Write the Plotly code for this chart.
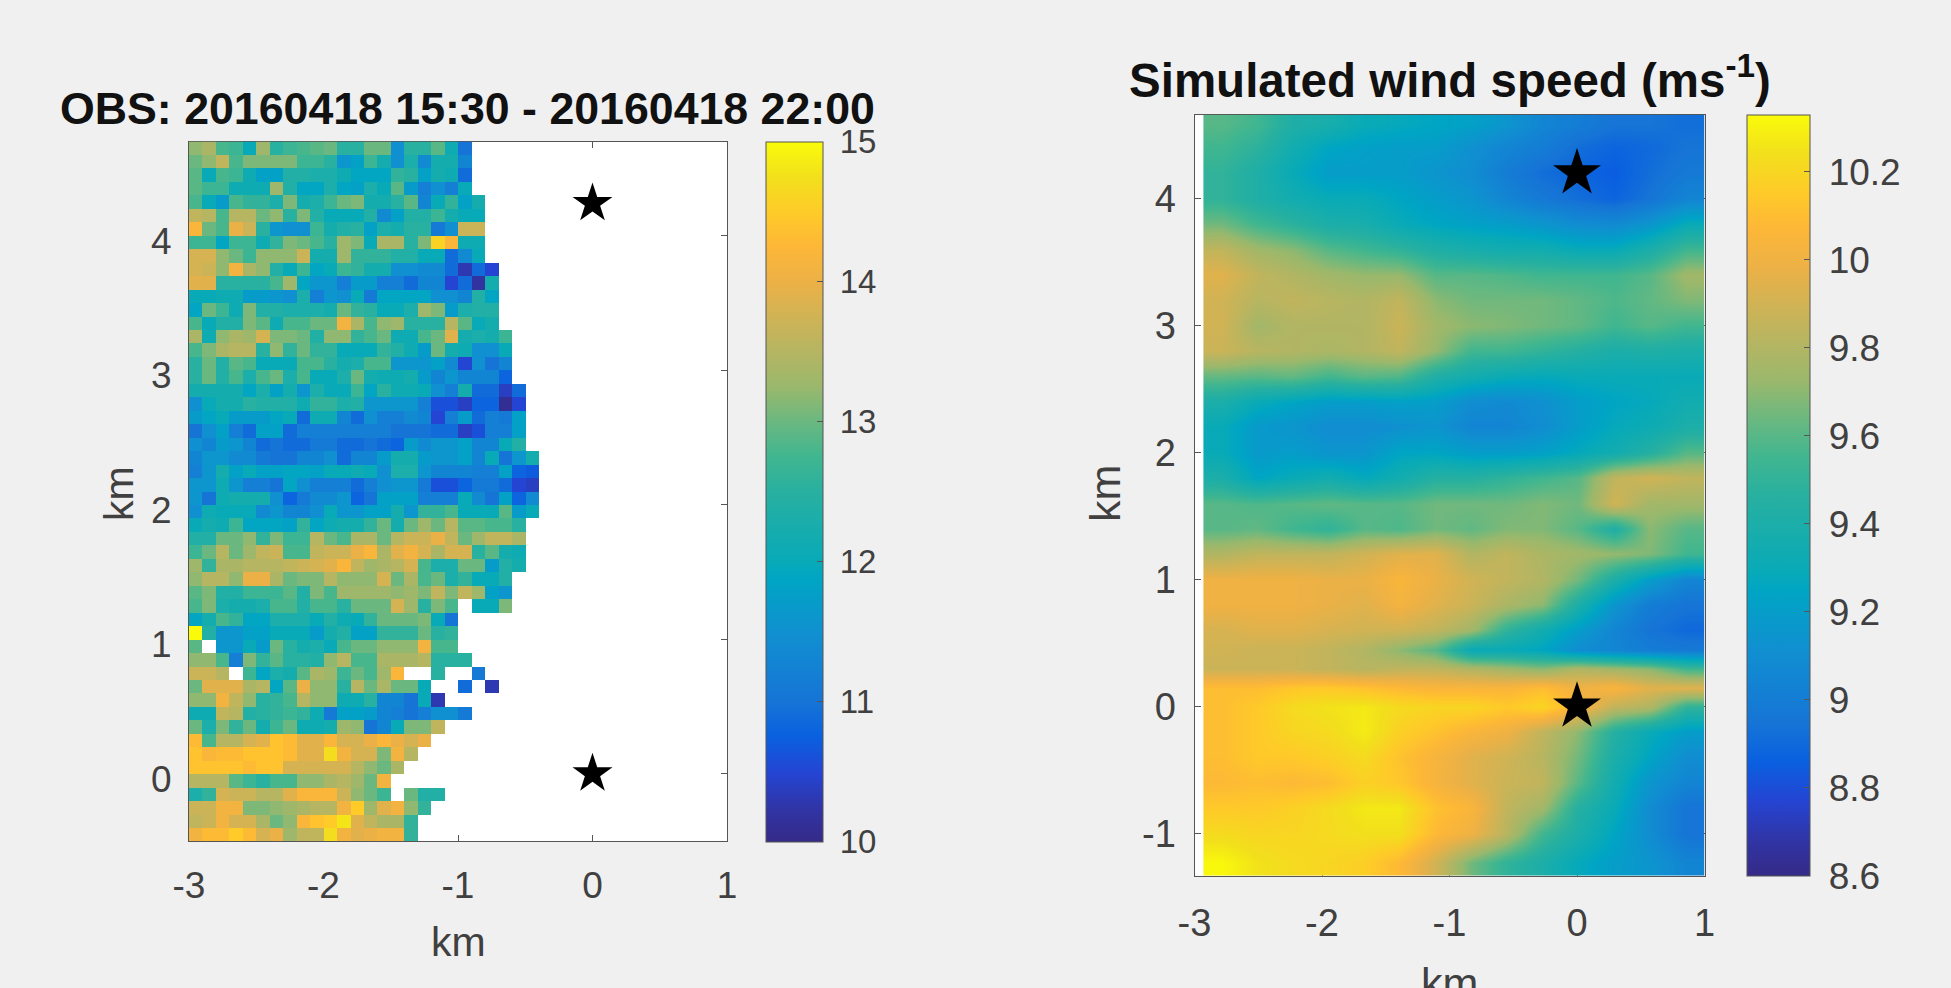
import plotly.graph_objects as go

W, H = 1951, 988
N = None

obs_x = [round(-2.95 + 0.1 * i, 2) for i in range(26)]
obs_y = [round(4.65 - 0.1 * i, 2) for i in range(52)]
obs_speed = [
 [13.2,13.4,12.8,12.7,12.0,13.3,12.5,12.7,12.8,12.9,13,12.5,12.5,13,13,11.5,12.5,12.5,12.9,12.1,11.0],
 [13,13.2,13.6,12.8,13.1,13.1,13.1,13.1,12.7,12.7,12.5,11.6,11.8,12.7,12.2,11.5,12.3,11.4,12.2,12.2,11.3],
 [12.9,12.0,12.8,12.7,12.1,11.8,11.8,12.4,12.4,12.3,12.3,12.1,11.9,11.9,11.9,12.6,12.5,11.8,12.2,12.1,10.9],
 [12.9,12.7,12.7,12.1,12.1,12.1,13.3,12.4,11.9,11.9,12.3,11.9,11.8,12.3,12.0,12.9,11.7,11.2,11.5,11.2,12.0],
 [12.8,12.0,11.7,12.8,12.6,12.6,12.3,13.1,12.2,12.3,12.7,13,13.1,12.2,12.2,12.5,12.9,11.3,12,12.6,11.8,12.2],
 [13.6,13.5,12.8,13.5,13.5,13.0,13.2,12.5,13.1,12.4,12.0,12,12,12.4,11.4,11.8,12.4,12.4,12.7,12.2,12.0,12.0],
 [14.2,13,12.8,14.0,13.7,12.5,11.6,11.5,11.5,12.7,12.2,12.4,12.5,11.8,12.3,12.2,12.5,12.5,11.1,11.5,13.7,13.7],
 [12.7,12.7,11.9,12.7,12.7,12.1,12.6,13.1,13,12.8,12.5,13.3,13.1,12,13.4,13.4,12.5,13.1,14.6,14.2,12.1,12.1],
 [13.8,13.8,13.2,13,12.7,13.2,13.2,13.2,13.7,12.2,12.2,13.3,12.6,12.6,12.6,12.4,12.4,12,12,10.9,11.4,12.0],
 [13.8,13.7,13.2,14.1,13.4,13.2,12.4,12.0,12.7,11.9,12,12.7,12.6,12.2,12.2,11.5,11.5,11.4,11.4,10.9,10.3,10.9,10.5],
 [13.9,13.9,12.5,12.5,12.5,12.5,12.8,13.3,11.9,11.6,11.6,11.2,11.7,11.7,11.2,11.2,10.9,11.3,11.3,10.5,10.9,10.2,12.2],
 [12.0,12.0,12.1,12.1,11.7,11.7,11.6,11.5,12.3,11.2,11.6,11.5,12,11.1,11.9,11.9,11.9,11.9,11.5,11.5,11.3,12.4,11.9],
 [11.9,13,12.7,12.1,13.1,12.4,12.4,12.3,12.3,12.3,12.2,13,12.6,12.5,12,12,12.3,13.3,13.1,11.7,12.3,12.4,12.4],
 [12.8,12.0,12.4,12.4,13.1,12.9,12.1,12.8,12.8,13,13,14.1,13.4,12.8,13.2,13.3,12.5,12.5,12.5,13.5,12.9,12.0,12.2],
 [13.4,12.1,13.2,13.4,13.3,13.8,13.1,13.1,13,12.4,13.2,13.2,12.6,12.8,13,12.1,12.1,12.8,13,13.9,12.2,12.3,12.2,12.7],
 [12.8,13.1,13.4,13.5,13.5,12.5,13.2,12.6,13,12.6,12.6,12.0,12.0,12.0,12.6,12.4,12.1,11.7,13,12.2,12.1,11.5,11.5,12.0],
 [12.5,13,12.4,12.9,12.8,12.0,12,12,12.8,12.8,12.5,12.2,12.3,12.8,12.8,11.6,11.6,11.6,11.8,11.4,10.5,11.5,11,11.3],
 [12.5,13,12.4,12.8,12.3,12.8,13,12.3,12.8,12.0,12.0,12.3,13.0,12.2,12.1,12.1,12.2,11.7,11.3,11.6,11.3,11.3,11.3,10.8],
 [12.2,12.2,12.2,12.2,11.9,12.3,11.8,12.2,11.6,12.3,12,12,12.7,11.9,12.5,12.1,12.1,12.0,11.5,11.2,12.2,10.9,10.9,10.4,10.9],
 [11.5,12,12.2,12.2,12.5,12.4,12.4,12.4,12.1,12.6,12.6,12.3,12.4,11.6,11.6,11.6,11.6,11.2,10.6,10.6,10.4,10.8,10.8,10.1,10.5],
 [11.7,11.9,12.0,11.7,11.7,11.7,11.9,12.0,10.9,12.1,12.1,11.3,10.9,11.5,11.2,11.2,11.4,11.3,10.5,11.2,11.7,10.9,11.2,11.1,11.8],
 [11.0,11.5,11.8,11.2,10.9,11.8,11.8,10.9,11.2,11.2,11.2,11.2,11.2,11.2,11.2,11,11,11,10.9,10.9,10.4,10.6,11.2,11.2,11.8],
 [11.5,11.3,11.7,11.6,11.3,10.9,11,10.9,10.9,11.1,11.1,10.9,10.9,11,10.9,10.8,11.7,11.4,11.6,11.6,11.8,11.3,11.3,12,12.4],
 [11.3,11.6,11.6,11.4,11.4,11.1,11,11,11.3,11.3,11.5,10.9,11.3,11.3,11.7,12.2,12.2,11.7,11.6,11.6,11.8,11.3,12.0,11,11.6,12.2],
 [11.2,11.6,12.2,11.8,12,11.8,11.8,11.9,11.9,11.8,12,12,12.1,12,11.5,12.3,12.3,11.6,11.3,11.3,11.3,11.2,11.2,11.8,10.8,10.7],
 [11.6,11.6,12.1,11.6,11.2,11.2,11,11.9,11.5,11.2,11.2,11.2,10.9,11.2,11.5,11.6,11.6,11.1,10.6,10.6,10.8,11.1,11.1,10.9,10.5,10.4],
 [11.6,11.0,12.1,12.2,12.2,12.2,11.5,10.8,11.1,11.4,11.4,11.6,10.8,11.0,11.8,11.8,11.8,11.2,11.2,11.2,12.0,11.4,11.0,11.8,10.8,11.4],
 [11.5,12.1,12.0,12.0,12.0,11.4,11.6,11.3,11.3,11.5,12.0,11.6,11.6,11.8,11.8,12.2,11.6,12.6,12.6,12.8,12.0,12.0,12.0,12.9,11.7,12.0],
 [12.0,12.2,12.1,12.7,11.9,11.9,11.9,11.8,12.6,11.9,12.1,12.2,12.2,12.6,13,12.2,13,13.3,13,13.5,12.9,12.9,12.8,12.8,12.5],
 [12.4,12.4,13,13,13.2,12.6,13.1,12.7,12.7,13.5,13,12.8,13.4,13.4,13,13.5,13.7,13.7,14,13.6,13,13.3,13.6,13.6,13.4],
 [12.7,13,13.5,13,13.3,13.6,13.7,12.8,12.8,13.6,13.7,13.7,14,14.2,13.4,13.9,14.1,13.8,13.4,13.8,13.8,12.5,12.9,12.2,12.1],
 [13.3,12.6,13.4,13.4,13.5,13.5,13.5,13.6,13.7,13.8,13.9,14.2,13.6,13.3,13.4,13.5,13.8,12.8,12.3,12.3,13,13,11.7,12.4,12.2],
 [13.2,13.5,13.5,13.2,14,14,13.4,13,13.1,13.1,13.5,13.2,13.2,13.2,13.8,13,13.4,12.8,13,12.3,12.6,12,12,12.4],
 [12.9,13.1,12.4,12.4,12.7,12.7,12.7,12.9,12.4,13.1,12.8,13.3,13.3,13.3,13.3,13.2,13.3,13.1,13.6,13.1,13.6,13.3,11.8,11.6],
 [12.8,13.1,12.3,12.2,12.2,12.3,12.8,12.8,12.4,12.8,12.8,12.5,13,13,13,13.8,13.3,12.5,13.1,12.8,N,12,12,13.1],
 [11.9,12.2,12.8,12.6,11.9,11.9,12.3,12.3,12.3,12.0,12.4,12.1,12.0,12.6,13,13,13,13.1,12.0,11.0],
 [15,12.4,11.6,11.6,11.8,11.8,12,12,12.0,11.7,12.2,12.4,11.8,11.8,12.6,12.6,12.6,13,12.5,12.6],
 [12.9,N,11.6,11.6,12,11.7,13,12.5,12.2,12.3,12.0,12.8,13,13,13.2,13.2,13.2,14.1,12.8,12.8],
 [13.2,13.2,12.8,11.2,13.1,12.6,12.9,12.5,12.5,12.4,13.2,13.5,12.8,12.8,13.4,13.4,13.4,13.5,12.5,12.5,12.5],
 [13.7,13.7,13.5,N,12.7,11.9,12.3,12.2,12.9,13.4,13.3,12.7,13,12.8,13.3,14.2,N,N,12.5,N,N,11.1],
 [13,13.9,13.9,13.9,13.4,13.5,11.9,12.9,14,13.2,13.2,12.5,13.5,13,13.4,13,13,12.0,N,N,10.9,N,10.3],
 [13.2,13.2,14.1,13.6,13.2,12.5,12.6,12.8,13.5,13.2,13.2,12.1,12.1,12.5,11.3,11.3,11.0,12.0,10.3],
 [12.1,12.1,13.6,13.5,12.4,12.5,12.6,12.7,12.6,12.1,11.1,11.8,11.8,11.7,11.3,11.2,11,11.2,11.5,11.5,11.1],
 [13,12.3,13.1,12.6,13,12.2,12.7,13,12.1,12.1,12.2,13.3,13.2,11.0,11.3,12,13.1,13.1,13.6],
 [14.3,12.8,13.5,13.5,13.8,13.9,14.4,14.3,13.9,13.9,14.2,13.8,13.8,14,14.2,14,13.8,14],
 [14.4,14.2,14.3,14.3,14.4,14.4,14.4,14.3,13.9,13.9,14.7,14.1,13.8,13.8,13.1,14.1,13.5],
 [14.4,14.4,14.4,14.4,14.3,14.4,14.4,13.8,13.8,13.8,13.8,13.8,13.5,13.2,13.0,13.4],
 [13.5,13.5,13.5,12.9,12.7,12.5,12.8,12.8,13.2,13.2,13.4,13.5,13.3,13,14.1],
 [12.3,12.6,13.8,13.7,13.7,13.5,13.5,13.9,14.2,14.2,14.2,13.7,13.2,13,12.7,N,13,12.4,12.4],
 [13.7,13.7,14.1,14.1,13.1,13.1,13.2,13.3,13.4,13.5,13.5,14.1,14.5,13.3,13.9,14.1,13.2,12.6],
 [13.6,13.7,14.1,13.8,13.8,13.4,13,13.2,14.2,14.4,14.5,14.8,13.9,13.6,13.4,13.4,12.6],
 [14.1,14.3,14.3,14.5,14.3,13.8,14.0,13.3,13.6,13.6,14.7,14.1,13.9,14,14.1,14.1,12.6],
]
obs_grid = [row + [N] * (len(obs_x) - len(row)) for row in obs_speed]

sim_x = [-2.79,-2.51,-2.23,-1.95,-1.67,-1.39,-1.11,-0.83,-0.55,-0.27,0.01,0.29,0.57,0.86]
sim_y = [4.58,4.4,4.2,4.0,3.8,3.6,3.4,3.2,3.0,2.8,2.6,2.4,2.2,2.0,1.8,1.6,1.4,1.2,1.0,0.8,0.6,0.45,0.3,0.15,0,-0.2,-0.4,-0.6,-0.8,-1.0,-1.23]
sim_speed = [
 [9.6,9.55,9.42,9.38,9.3,9.28,9.25,9.22,9.15,9.05,9.0,8.95,8.95,8.92],
 [9.55,9.48,9.35,9.25,9.22,9.2,9.2,9.12,9.05,9.0,8.92,8.88,8.9,8.95],
 [9.5,9.42,9.3,9.2,9.2,9.2,9.15,9.1,9.0,8.92,8.88,8.85,8.92,8.98],
 [9.5,9.42,9.35,9.3,9.3,9.25,9.2,9.15,9.05,8.98,8.92,8.88,8.95,9.05],
 [9.65,9.55,9.48,9.4,9.38,9.3,9.25,9.22,9.2,9.15,9.1,9.08,9.15,9.3],
 [9.85,9.75,9.7,9.6,9.55,9.5,9.42,9.38,9.35,9.35,9.3,9.3,9.4,9.55],
 [9.95,9.85,9.8,9.75,9.72,9.72,9.6,9.6,9.58,9.55,9.55,9.55,9.6,9.75],
 [9.9,9.82,9.85,9.82,9.8,9.85,9.7,9.65,9.65,9.65,9.62,9.58,9.62,9.68],
 [9.9,9.75,9.8,9.8,9.8,9.88,9.75,9.7,9.68,9.65,9.62,9.55,9.6,9.55],
 [9.88,9.82,9.8,9.78,9.8,9.85,9.72,9.55,9.55,9.5,9.45,9.4,9.42,9.4],
 [9.62,9.6,9.62,9.55,9.6,9.58,9.42,9.35,9.3,9.28,9.3,9.3,9.3,9.3],
 [9.4,9.3,9.25,9.2,9.2,9.22,9.2,9.1,9.08,9.12,9.2,9.25,9.28,9.35],
 [9.3,9.18,9.15,9.1,9.1,9.12,9.15,9.05,9.05,9.1,9.2,9.28,9.32,9.4],
 [9.3,9.18,9.2,9.15,9.15,9.25,9.25,9.2,9.2,9.22,9.28,9.35,9.45,9.6],
 [9.4,9.25,9.3,9.35,9.28,9.35,9.45,9.45,9.5,9.55,9.6,9.85,9.9,9.85],
 [9.6,9.58,9.6,9.62,9.6,9.6,9.65,9.65,9.65,9.68,9.65,9.9,9.75,9.75],
 [9.6,9.62,9.55,9.5,9.6,9.58,9.65,9.62,9.68,9.68,9.6,9.42,9.7,9.6],
 [9.8,9.85,9.85,9.85,9.9,9.95,9.95,9.8,9.85,9.78,9.75,9.72,9.68,9.55],
 [10,10,10,9.98,9.98,10.05,9.98,9.9,9.85,9.8,9.65,9.4,9.2,9.05],
 [10,10,10,9.98,9.95,10.02,9.95,9.88,9.78,9.7,9.4,9.15,9.0,8.95],
 [9.92,9.95,9.95,9.92,9.9,9.9,9.85,9.75,9.5,9.35,9.2,9.05,8.95,8.9],
 [9.9,9.88,9.88,9.85,9.8,9.7,9.6,9.3,9.3,9.25,9.1,9.05,9.0,8.98],
 [9.88,9.88,9.88,9.85,9.82,9.85,9.85,9.8,9.75,9.7,9.8,9.75,9.7,9.55],
 [10.1,10.1,10.14,10.15,10.12,10.08,10.05,10.05,10.05,10.1,10,10.05,9.95,9.95],
 [10.1,10.15,10.22,10.25,10.27,10.22,10.2,10.2,10.15,10.2,10.05,9.85,9.8,9.5],
 [10.1,10.15,10.2,10.22,10.28,10.18,10.12,10.05,10,9.85,9.7,9.45,9.3,9.2],
 [10.1,10.15,10.15,10.18,10.22,10.12,10.04,9.95,9.9,9.82,9.65,9.4,9.25,9.1],
 [10.08,10.1,10.08,10.1,10.18,10.14,10.03,9.95,9.88,9.85,9.6,9.35,9.15,9.05],
 [10.15,10.15,10.18,10.22,10.27,10.27,10.12,10.05,9.85,9.75,9.45,9.3,9.1,8.95],
 [10.22,10.2,10.2,10.22,10.24,10.24,10.08,10,9.82,9.55,9.4,9.25,9.1,8.95],
 [10.32,10.25,10.22,10.2,10.17,10.08,9.9,9.65,9.5,9.4,9.28,9.2,9.15,9.05],
]

star_x_obs = [0, 0]
star_y_obs = [4.24, 0]
star_x_sim = [0, 0]
star_y_sim = [4.2, 0]

x_ticks = [-3, -2, -1, 0, 1]
x_tick_labels = ["-3", "-2", "-1", "0", "1"]
obs_y_ticks = [0, 1, 2, 3, 4]
obs_y_labels = ["0", "1", "2", "3", "4"]
sim_y_ticks = [-1, 0, 1, 2, 3, 4]
sim_y_labels = ["-1", "0", "1", "2", "3", "4"]
obs_cb_ticks = [10, 11, 12, 13, 14, 15]
obs_cb_labels = ["10", "11", "12", "13", "14", "15"]
sim_cb_ticks = [8.6, 8.8, 9, 9.2, 9.4, 9.6, 9.8, 10, 10.2]
sim_cb_labels = ["8.6", "8.8", "9", "9.2", "9.4", "9.6", "9.8", "10", "10.2"]

parula = [
    [0.0, "#352a87"], [0.05, "#3035a8"], [0.1, "#2445d4"], [0.15, "#0a60e0"],
    [0.2, "#1674d6"], [0.3, "#1090d0"], [0.375, "#00a5c4"], [0.4, "#08aab8"],
    [0.5, "#28b0a0"], [0.55, "#40b690"], [0.6, "#6ab880"], [0.65, "#9ab86c"],
    [0.7, "#b5b562"], [0.75, "#d0b355"], [0.8, "#ecb146"], [0.85, "#fdb738"],
    [0.9, "#fecb28"], [0.95, "#f2e01c"], [1.0, "#fafb0a"],
]

FONT = "Liberation Sans, Arial, sans-serif"
TXT = "#404040"
BG = "#f0f0f0"
LINE = "#555555"


def px_x(a, b):
    return [a / W, b / W]


def px_y(top, bottom):
    return [1 - bottom / H, 1 - top / H]


def colorbar(x0, x1, top, bottom, size, **kw):
    return dict(
        x=x0 / W, xanchor="left", xref="paper", thickness=x1 - x0, thicknessmode="pixels",
        y=1 - top / H, yanchor="top", yref="paper", len=(bottom - top) / H, lenmode="fraction",
        xpad=0, ypad=0, ticks="inside", ticklen=6, tickcolor=LINE, tickwidth=1,
        outlinecolor=LINE, outlinewidth=1,
        tickfont=dict(family=FONT, size=size, color=TXT), **kw,
    )


fig = go.Figure()
fig.add_trace(go.Heatmap(
    x=obs_x, y=obs_y, z=obs_grid, zmin=10, zmax=15, colorscale=parula, xaxis="x", yaxis="y",
    hoverongaps=False,
    colorbar=colorbar(766, 823, 141.5, 841, 33, tickmode="array", tickvals=obs_cb_ticks,
                      ticktext=["&nbsp;" + t for t in obs_cb_labels]),
))
fig.add_trace(go.Heatmap(
    x=sim_x, y=sim_y, z=sim_speed, zmin=8.6, zmax=10.33, colorscale=parula, xaxis="x2", yaxis="y2",
    zsmooth="best",
    colorbar=colorbar(1747, 1810, 114.7, 875.7, 37, tickmode="array", tickvals=sim_cb_ticks,
                      ticktext=["&nbsp;" + t for t in sim_cb_labels]),
))


def star(size):
    return dict(mode="markers", showlegend=False, hoverinfo="skip", cliponaxis=False,
                marker=dict(symbol="star", color="black", size=size, line=dict(width=0)))


fig.add_trace(go.Scatter(x=star_x_obs, y=star_y_obs, xaxis="x", yaxis="y", **star(30)))
fig.add_trace(go.Scatter(x=star_x_sim, y=star_y_sim, xaxis="x2", yaxis="y2", **star(36)))


def axis(domain, rng, ticks, labels, anchor, size, standoff, shift=0):
    return dict(
        domain=domain, range=rng, tickmode="array", tickvals=ticks, ticktext=labels, anchor=anchor,
        showgrid=False, zeroline=False, showline=True, linecolor=LINE, linewidth=1, mirror="ticks",
        ticks="inside", ticklen=6, tickcolor=LINE, tickwidth=1, layer="below traces",
        automargin=False, ticklabelstandoff=standoff, ticklabelshift=shift,
        tickfont=dict(family=FONT, size=size, color=TXT),
    )


def note(text, x, y, size, color, angle=0):
    return dict(text=text, xref="paper", yref="paper", x=x / W, y=1 - y / H,
                xanchor="center", yanchor="middle", showarrow=False, textangle=angle,
                font=dict(family=FONT, size=size, color=color))


fig.update_layout(
    width=W, height=H, margin=dict(l=0, r=0, t=0, b=0), autosize=False,
    paper_bgcolor=BG, plot_bgcolor="white", showlegend=False,
    xaxis=axis(px_x(189, 727), [-3, 1], x_ticks, x_tick_labels, "y", 37, 12),
    yaxis=axis(px_y(141.5, 841), [-0.5, 4.7], obs_y_ticks, obs_y_labels, "x", 37, 9, 5),
    xaxis2=axis(px_x(1194.5, 1704.5), [-3, 1], x_ticks, x_tick_labels, "y2", 38, 14),
    yaxis2=axis(px_y(114.7, 875.7), [-1.334, 4.66], sim_y_ticks, sim_y_labels, "x2", 38, 10),
    annotations=[
        note("<b>OBS: 20160418 15:30 - 20160418 22:00</b>", 467, 108.5, 44.7, "#111111"),
        note("<b>Simulated wind speed (ms<sup>-1</sup>)</b>", 1450, 77, 47.5, "#111111"),
        note("km", 458, 942, 41, TXT),
        note("km", 119, 494, 41, TXT, -90),
        note("km", 1449, 983, 43, TXT),
        note("km", 1105, 494, 43, TXT, -90),
    ],
)

fig.write_html(
    "out.html",
    config={"displayModeBar": False},
    post_script="document.body.style.margin='0';document.body.style.overflow='hidden';document.body.style.background='#f0f0f0';",
)
